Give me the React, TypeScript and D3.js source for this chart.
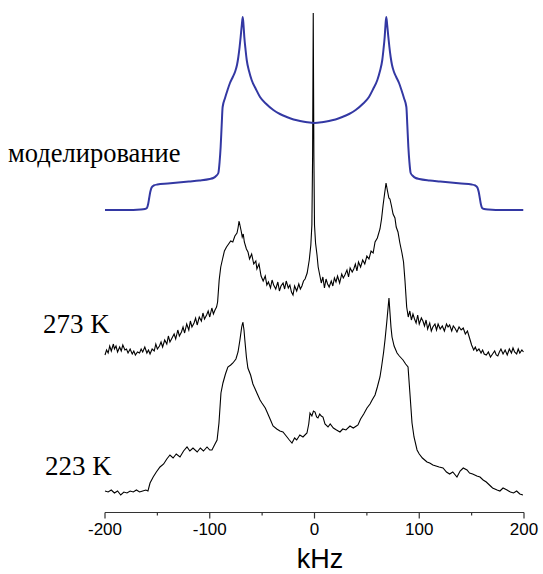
import React from "react";
import * as d3 from "d3";

// frequency axis
const xTicks = [-200, -100, 0, 100, 200];
const xMinorTicks = [-150, -50, 50, 150];
const xLabel = "kHz";

const seriesLabels = ["моделирование", "273 K", "223 K"];
// vertical offsets (intensity units) of each stacked spectrum
const seriesOffsets = [302, 157, 20];

// simulated powder pattern: [kHz, intensity]
const simulation: [number, number][] = [
  [-200, 0], [-180, 0], [-166, 0.5], [-162, 1], [-160, 2], [-158.8, 6], [-157.8, 12], [-156.8, 18], [-155.5, 22.5], [-153.5, 24.5],
  [-150, 25.5], [-140, 26.5], [-130, 27.5], [-120, 28.5], [-110, 29.5], [-100, 31], [-96.6, 32], [-94, 34], [-91.8, 37],
  [-90.6, 48], [-89.6, 63], [-88.6, 85], [-87.7, 103], [-85.4, 112], [-83, 120], [-80.7, 127], [-78, 133], [-75.9, 138],
  [-74, 145], [-72.7, 153], [-71.5, 163], [-70.5, 173], [-69.4, 185], [-68.5, 193], [-67.7, 184], [-67, 173], [-65.8, 160],
  [-64.7, 150], [-62.5, 139], [-60, 130], [-56, 121], [-52, 113], [-46, 106], [-39.3, 100], [-33, 96], [-26.5, 93],
  [-20, 90.5], [-13.8, 89], [-7, 87.7], [0, 87],
  [7, 87.7], [13.8, 89], [20, 90.5], [26.5, 93], [33, 96], [39.3, 100], [46, 106], [52, 113], [56, 121], [60, 130],
  [62.5, 139], [64.7, 150], [65.8, 160], [67, 173], [67.7, 184], [68.5, 193], [69.4, 185], [70.5, 173], [71.5, 163],
  [72.7, 153], [74, 145], [75.9, 138], [78, 133], [80.7, 127], [83, 120], [85.4, 112], [87.7, 103], [88.6, 85],
  [89.6, 63], [90.6, 48], [91.8, 37], [94, 34], [96.6, 32], [100, 31], [110, 29.5], [120, 28.5], [130, 27.5],
  [140, 26.5], [150, 25.5], [153.5, 24.5], [155.5, 22.5], [156.8, 18], [157.8, 12], [158.8, 6], [160, 2], [162, 1],
  [166, 0.5], [180, 0], [199.3, 0],
];

// measured spectrum at 273 K: [kHz, intensity]
const spectrum273: [number, number][] = [
  [-200, 0], [-198.5, 5], [-197, 2], [-195.5, 9], [-194, 4], [-192, 11], [-191, 6], [-189.5, 9], [-188, 3], [-186, 8],
  [-184.5, 4], [-183, 10], [-181, 5], [-179.5, 6], [-178, 2], [-176, 6], [-174, 1], [-172.5, 4], [-171, 0], [-169, 3],
  [-167, 2], [-165.5, 6], [-164, 3], [-162, 8], [-160, 2], [-158.5, 5], [-157, 1], [-155, 6], [-153, 4], [-151.5, 11],
  [-150, 6], [-148, 9], [-146.5, 13], [-145, 8], [-143, 15], [-141, 11], [-139.5, 19], [-138, 13], [-136, 17],
  [-134, 21], [-132.5, 16], [-130.5, 25], [-129, 19], [-127, 23], [-125.5, 28], [-124, 22], [-122, 31], [-120, 25],
  [-118.5, 34], [-117, 28], [-115, 32], [-113.5, 37], [-112, 30], [-110, 38], [-108, 34], [-106.5, 42], [-105, 36],
  [-103, 40], [-101.5, 44], [-100, 38], [-98, 47], [-96.5, 41], [-95, 45], [-93.5, 48], [-92.5, 53], [-91, 75],
  [-89.5, 88], [-88, 95], [-86, 104], [-84, 108], [-82, 111], [-80, 114], [-78, 113], [-76, 119], [-74, 122],
  [-73, 127], [-72, 134], [-71, 129], [-70, 124], [-69, 118], [-68, 121], [-67, 113], [-65, 106], [-63.5, 103],
  [-62, 96], [-60, 101], [-58, 91], [-56, 94], [-55, 86], [-53, 91], [-51, 79], [-49, 74], [-47, 79], [-45.5, 70],
  [-44, 73], [-42, 67], [-40.5, 75], [-39, 70], [-37, 66], [-35, 73], [-33.5, 64], [-32, 69], [-30, 72], [-28.5, 66],
  [-27, 74], [-25, 67], [-23.5, 70], [-22, 63], [-20.5, 60], [-19, 69], [-17, 64], [-15, 71], [-13.5, 66], [-12, 69],
  [-10.5, 74], [-9, 76], [-7, 82], [-5, 95], [-3.5, 110], [-2.5, 130], [-1.8, 200], [-1.2, 342], [-0.6, 200],
  [0, 130], [1, 112], [2.4, 100], [3.5, 88], [5, 80], [6.5, 72], [8, 78], [9.5, 67], [11, 76], [12.5, 71],
  [14, 68], [16, 74], [17.5, 69], [19, 77], [20.5, 73], [22, 79], [24, 72], [26, 81], [27.5, 77], [29, 80],
  [31, 85], [32.5, 78], [34, 87], [36, 83], [37.5, 86], [39, 91], [40.5, 84], [42, 93], [44, 88], [46, 95],
  [48, 91], [50, 99], [52, 96], [54, 104], [56, 102], [57.8, 113], [60, 117], [62.5, 126], [64, 136],
  [65.5, 150], [67, 162], [68.3, 172], [69.5, 165], [71, 157], [72, 156], [73.5, 149], [75, 141], [76.8, 137],
  [78, 128], [79.7, 123], [81.5, 112], [83.5, 102], [85, 93], [86.4, 74], [88, 48], [89.5, 38], [91, 44],
  [92.5, 35], [94, 41], [95.5, 36], [97, 32], [98.5, 40], [100, 31], [102, 37], [103.5, 34], [105, 29], [106.5, 35],
  [108, 26], [110, 32], [111.5, 24], [113, 28], [115, 31], [116.5, 25], [118, 31], [120, 26], [122, 29], [124, 24],
  [126, 31], [127.5, 28], [129, 30], [131, 24], [132.5, 29], [134, 27], [136, 23], [138, 28], [140, 25], [142, 27],
  [144, 21], [146, 24], [148, 17], [150, 10], [152, 5], [153.5, 8], [155, 4], [157, 6], [159, 2], [160.5, 5],
  [162, 1], [164, 0], [166, 3], [168, -2], [170, 1], [172, 4], [173.5, 0], [175, -1], [176.5, 3], [178, 6],
  [180, 1], [182, 5], [184, 0], [186, 6], [188, 2], [189.5, 7], [191, 3], [193, 1], [194.5, 6], [196, 2],
  [198, 5], [199.5, 3],
];

// measured spectrum at 223 K: [kHz, intensity]
const spectrum223: [number, number][] = [
  [-200, 1], [-197, 0], [-194, 2], [-191, -1], [-188, 1], [-185, -3], [-182, 0], [-179, -1], [-176, 1], [-173, 0],
  [-170, 2], [-167, 0], [-164, 1], [-161, 2], [-159, 1], [-157, 9], [-154, 15], [-151, 20], [-147.5, 25],
  [-144, 28], [-141, 33], [-138, 37], [-135, 34], [-132, 38], [-128.4, 35], [-125, 41], [-121.7, 45], [-119, 41],
  [-116, 44], [-112, 40], [-109, 44], [-106, 41], [-102.6, 45], [-100, 42], [-97.9, 42], [-95, 48], [-93, 52],
  [-91.2, 69], [-89.3, 99], [-87.4, 109], [-85, 118], [-82.7, 125], [-80, 127], [-77.9, 129], [-75, 133],
  [-73, 140], [-71.2, 152], [-69.5, 165], [-68.4, 170], [-67.3, 162], [-66.5, 152], [-65, 135], [-63.6, 124],
  [-61, 117], [-58.8, 108], [-55, 99], [-52, 92], [-50.2, 89], [-47, 84], [-45.3, 80], [-42, 72], [-39.6, 66],
  [-36, 63], [-33, 61], [-30.1, 60], [-27, 56], [-24, 52], [-21.5, 49], [-19, 54], [-17, 52], [-14, 57],
  [-11, 55], [-7.2, 59], [-5.5, 68], [-4.3, 79], [-2.5, 76], [-1, 81], [0.5, 80], [2, 75], [3.3, 74], [5, 78],
  [6.5, 76], [8.1, 75], [10, 68], [12.9, 65], [15, 68], [18, 64], [21, 62], [24.3, 60], [27, 63], [30, 62],
  [33.9, 66], [37, 64], [40, 66], [41.5, 67], [44, 73], [47, 78], [50.1, 84], [53, 88], [55, 92], [57.8, 97],
  [60, 105], [62.5, 115], [64, 125], [66, 140], [67.3, 152], [69, 170], [70.3, 185], [71.1, 194], [72, 180],
  [73, 165], [74, 155], [76, 146], [78.8, 139], [81, 136], [84.5, 132], [87, 128], [89.3, 125], [91, 100],
  [93.1, 69], [95, 55], [97.9, 42], [100, 38], [103, 34], [107.4, 30], [110, 29], [113, 27], [116, 26],
  [119, 25], [122.7, 24], [126, 20], [129, 18], [132, 20], [136, 15], [139, 21], [142, 24], [145.6, 22],
  [148, 19], [151, 18], [155, 16], [158, 15], [161, 12], [164, 10], [167, 7], [170, 4], [174.3, 2], [177, 1],
  [180, 4], [183.8, 2], [187, 0], [190, -1], [193, 1], [196, -2], [199, -3],
];

const W = 543;
const H = 574;

export default function App() {
  const x = d3.scaleLinear().domain([-200, 200]).range([105, 524]);
  const y = d3.scaleLinear().domain([0, 500]).range([512, 12]);
  const axisY = 512.5;

  const mkLine = (offset: number, curve: d3.CurveFactory) =>
    d3
      .line<[number, number]>()
      .x((d) => x(d[0]))
      .y((d) => y(d[1] + offset))
      .curve(curve);

  const simPath = mkLine(seriesOffsets[0], d3.curveMonotoneX)(simulation) || "";
  const p273 = mkLine(seriesOffsets[1], d3.curveLinear)(spectrum273) || "";
  const p223 = mkLine(seriesOffsets[2], d3.curveLinear)(spectrum223) || "";

  const serif = "'Liberation Serif', 'Times New Roman', serif";
  const sans = "'Liberation Sans', Arial, sans-serif";

  return (
    <svg
      width={W}
      height={H}
      style={{ position: "absolute", left: 0, top: 0, background: "#fff" }}
    >
      <rect x={0} y={0} width={W} height={H} fill="#fff" />
      <path d={p223} fill="none" stroke="#000" strokeWidth={1.1} />
      <path d={p273} fill="none" stroke="#000" strokeWidth={1.1} />
      <path d={simPath} fill="none" stroke="#3338a3" strokeWidth={2} />

      {/* axis */}
      <line x1={x(-200)} x2={x(200)} y1={axisY} y2={axisY} stroke="#333" strokeWidth={1.2} />
      {xTicks.map((t) => (
        <g key={t}>
          <line x1={x(t)} x2={x(t)} y1={axisY} y2={axisY + 6} stroke="#333" strokeWidth={1.2} />
          <text x={x(t)} y={535} textAnchor="middle" fontFamily={sans} fontSize={17} fill="#000">
            {t}
          </text>
        </g>
      ))}
      {xMinorTicks.map((t) => (
        <line key={t} x1={x(t)} x2={x(t)} y1={axisY} y2={axisY + 3} stroke="#333" strokeWidth={1.2} />
      ))}
      <text x={320} y={568} textAnchor="middle" fontFamily={sans} fontSize={27} fill="#000">
        {xLabel}
      </text>

      {/* series labels */}
      <text x={8} y={162} fontFamily={serif} fontSize={26.5} fill="#000">
        {seriesLabels[0]}
      </text>
      <text x={43} y={333} fontFamily={serif} fontSize={27} fill="#000">
        {seriesLabels[1]}
      </text>
      <text x={45} y={475} fontFamily={serif} fontSize={27} fill="#000">
        {seriesLabels[2]}
      </text>
    </svg>
  );
}
